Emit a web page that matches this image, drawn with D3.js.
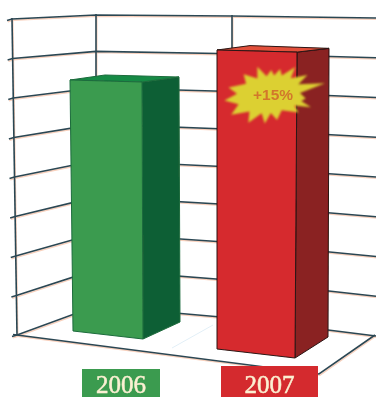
<!DOCTYPE html>
<html>
<head>
<meta charset="utf-8">
<style>
	html, body { margin: 0; padding: 0; background: #fff; }
	svg { display: block; }
</style>
<script src="https://cdn.jsdelivr.net/npm/d3@7"></script>
</head>
<body>
<div id="visual"></div>
<script>
// DATA

var categories = ["2006", "2007"];
var values = [100, 115];
var levels = [0, 1, 2, 3, 4, 5, 6, 7, 8];
var badgeText = "+15%";
// spikes of the star: angle in degrees, length in px
var spikeAngles = [3, 22, 43, 63, 79, 97, 108, 123, 165, 190, 217, 242, 262, 279, 307, 335];
var spikeLengths = [24, 27, 37, 42, 56, 36, 43, 34, 27, 30, 36, 44, 46, 42, 33, 30];
var valleyLengths = [19, 22, 26, 30, 30, 32, 27, 20, 19, 21, 27, 33, 33, 26, 20, 18];

// DIMENSIONS

var width = 376,
	height = 397,
	maxLevel = 8,
	barColors = {
		"2006": { front: "#3a9b4f", side: "#115f35", top: "#128a45", edge: "#1c6b3c" },
		"2007": { front: "#d62a2d", side: "#8a2022", top: "#e2503a", edge: "#2a1412" }
	};

// wall corners the grid lines bend at: x, floor y, top y
var gridColumns = [
	{ x: 17, xTop: 12, floor: 335, top: 19 },
	{ x: 96, xTop: 96, floor: 306, top: 15 },
	{ x: 232, xTop: 232, floor: 318, top: 16 },
	{ x: 376, xTop: 376, floor: 336, top: 18 }
];

// four upright edges of each bar: x on the floor, floor y, px per value, lean
var barCorners = {
	"2006": {
		frontLeft: { x: 73, floor: 331, unit: 2.51, lean: -3 },
		frontRight: { x: 143, floor: 339, unit: 2.57, lean: -1 },
		sideRight: { x: 180, floor: 322, unit: 2.45, lean: -1 },
		backLeft: { x: 107, floor: 321, unit: 2.46, lean: -2 }
	},
	"2007": {
		frontLeft: { x: 217, floor: 349, unit: 2.6, lean: 0 },
		frontRight: { x: 295, floor: 358, unit: 2.66, lean: 2 },
		sideRight: { x: 328, floor: 337, unit: 2.51, lean: 1 },
		backLeft: { x: 250, floor: 340, unit: 2.56, lean: 0 }
	}
};

var labelBoxes = {
	"2006": { x: 82, y: 369, w: 78, h: 28, fill: "#3a9b4f" },
	"2007": { x: 221, y: 366, w: 97, h: 31, fill: "#d42b2e" }
};

// CHART

var svg = d3.select("#visual")
	.append("svg")
	.attr("width", width)
	.attr("height", height)
	.style("background", "#fff");

var defs = svg.append("defs");
defs.append("filter").attr("id", "soft")
	.append("feGaussianBlur").attr("stdDeviation", 0.45);
defs.append("filter").attr("id", "softer")
	.attr("x", "-10%").attr("y", "-10%").attr("width", "120%").attr("height", "120%")
	.append("feGaussianBlur").attr("stdDeviation", 0.9);

var chart = svg.append("g").attr("filter", "url(#soft)");

// scales for the grid, one y scale per wall corner
gridColumns.forEach(function(c) {
	c.y = d3.scaleLinear().domain([0, maxLevel]).range([c.floor, c.top]);
	c.xAt = d3.scaleLinear().domain([0, maxLevel]).range([c.x, c.xTop]);
});

var lineGen = d3.line();

function levelLine(level) {
	var pts = gridColumns.map(function(c) { return [c.xAt(level), c.y(level)]; });
	pts.unshift([pts[0][0] - 5, pts[0][1] + 1.5]);
	return lineGen(pts);
}

function drawGrid(color, dx, dy, sw) {
	var g = chart.append("g")
		.attr("transform", "translate(" + dx + "," + dy + ")")
		.attr("fill", "none")
		.attr("stroke", color)
		.attr("stroke-width", sw);

	g.selectAll("path.level").data(levels)
		.enter().append("path")
		.attr("class", "level")
		.attr("d", levelLine);

	// uprights
	g.selectAll("path.upright").data(gridColumns.slice(0, 3))
		.enter().append("path")
		.attr("class", "upright")
		.attr("d", function(c) {
			return lineGen([[c.xAt(0), c.y(0)], [c.xAt(maxLevel), c.y(maxLevel) - 1]]);
		});

	// floor edges
	var corner = [319, 374];
	g.append("path")
		.attr("d", lineGen([
			[gridColumns[0].xAt(0) - 4, gridColumns[0].y(0) - 0.5],
			corner,
			[gridColumns[3].x - 1, gridColumns[3].y(0) - 1]
		]));
}

drawGrid("#f8d0bc", 0.8, 1.3, 1.4);
drawGrid("#2c4753", 0, 0, 1.6);

// faint crease on the floor
chart.append("path")
	.attr("d", lineGen([[172, 348], [213, 325]]))
	.attr("stroke", "#e2eff7")
	.attr("stroke-width", 1)
	.attr("fill", "none");

// BARS

categories.forEach(function(cat, i) {
	var corners = barCorners[cat],
		colors = barColors[cat],
		value = values[i];

	function bottom(c) { return [c.x, c.floor]; }
	function top(c) {
		var y = d3.scaleLinear().domain([0, 1]).range([c.floor, c.floor - c.unit]);
		return [c.x + c.lean, y(value)];
	}

	var g = chart.append("g").attr("class", "bar");

	g.append("path")
		.attr("d", lineGen([top(corners.frontRight), top(corners.sideRight), bottom(corners.sideRight), bottom(corners.frontRight)]) + "Z")
		.attr("fill", colors.side)
		.attr("stroke", colors.edge)
		.attr("stroke-width", 1);

	g.append("path")
		.attr("d", lineGen([top(corners.frontLeft), top(corners.backLeft), top(corners.sideRight), top(corners.frontRight)]) + "Z")
		.attr("fill", colors.top)
		.attr("stroke", colors.edge)
		.attr("stroke-width", 1);

	g.append("path")
		.attr("d", lineGen([top(corners.frontLeft), top(corners.frontRight), bottom(corners.frontRight), bottom(corners.frontLeft)]) + "Z")
		.attr("fill", colors.front)
		.attr("stroke", colors.edge)
		.attr("stroke-width", 1);
});

// STAR

var spikes = [];
spikeAngles.forEach(function(a, i) {
	var next = spikeAngles[(i + 1) % spikeAngles.length];
	if (next < a) next += 360;
	spikes.push([a * Math.PI / 180, spikeLengths[i]]);
	spikes.push([(a + next) / 2 * Math.PI / 180, valleyLengths[i]]);
});

var star = svg.append("g").attr("transform", "translate(270,94)");

star.append("path")
	.attr("d", d3.lineRadial().curve(d3.curveLinearClosed)(spikes))
	.attr("fill", "#dcd032")
	.attr("filter", "url(#softer)");

star.append("text")
	.attr("x", 3)
	.attr("y", 6)
	.attr("text-anchor", "middle")
	.attr("font-family", "'Liberation Sans', Arial, sans-serif")
	.attr("font-weight", "bold")
	.attr("font-size", 15.5)
	.attr("fill", "#d2782c")
	.attr("filter", "url(#soft)")
	.text(badgeText);

// LABELS

categories.forEach(function(cat) {
	var box = labelBoxes[cat];
	chart.append("rect")
		.attr("x", box.x)
		.attr("y", box.y)
		.attr("width", box.w)
		.attr("height", box.h)
		.attr("fill", box.fill);
	chart.append("text")
		.attr("x", box.x + box.w / 2)
		.attr("y", 392.5)
		.attr("text-anchor", "middle")
		.attr("font-family", "'Liberation Serif', 'Times New Roman', serif")
		.attr("font-size", 25)
		.attr("fill", "#fbf0d2")
		.attr("stroke", "#fbf0d2")
		.attr("stroke-width", 0.5)
		.text(cat);
});
</script>
</body>
</html>
